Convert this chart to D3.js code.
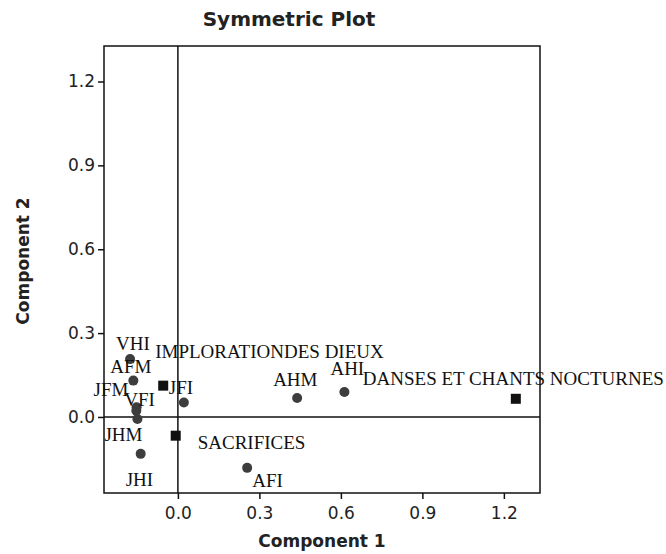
<!DOCTYPE html>
<html>
<head>
<meta charset="utf-8">
<script src="https://cdn.jsdelivr.net/npm/d3@7"></script>
<style>
  body { margin: 0; background: #fff; }
  .lbl { font-family: "Liberation Serif", "Times New Roman", serif; font-size: 19px; fill: #111; }
  .tick text { font-family: "DejaVu Sans", sans-serif; font-size: 17px; fill: #222; }
  .ttl { font-family: "DejaVu Sans", sans-serif; font-weight: bold; fill: #222; }
</style>
</head>
<body>
<div id="chart"></div>
<script>

// row points (circles)
var rowLabels = ["VHI", "AFM", "JFM", "VFI", "JHM", "JHI", "JFI", "AHM", "AHI", "AFI"];
var rowX = [-0.176, -0.164, -0.152, -0.153, -0.149, -0.137, 0.022, 0.439, 0.613, 0.255];
var rowY = [0.207, 0.130, 0.035, 0.022, -0.007, -0.132, 0.052, 0.068, 0.089, -0.182];

// column points (squares)
var colLabels = ["IMPLORATIONDES DIEUX", "SACRIFICES", "DANSES ET CHANTS NOCTURNES"];
var colX = [-0.054, -0.008, 1.244];
var colY = [0.112, -0.067, 0.065];

var xTicks = [0.0, 0.3, 0.6, 0.9, 1.2];
var yTicks = [0.0, 0.3, 0.6, 0.9, 1.2];

// label offsets in pixels from the marker (layout only)
var rowOffsets = [[-14, -9], [-23, -8], [-43, -11], [-12, -5], [-33, 22], [-15, 32], [-15, -8], [-24, -12], [-14, -17], [5, 19]];
var colOffsets = [[-8, -28], [22, 13], [-153, -14]];

var width = 666;
var height = 554;
var margin = {top: 46, right: 126, bottom: 61, left: 104};

var svg = d3.select("#chart")
  .append("svg")
  .attr("width", width)
  .attr("height", height);

var xScale = d3.scaleLinear()
  .domain([-0.272, 1.333])
  .range([margin.left, width - margin.right]);

var yScale = d3.scaleLinear()
  .domain([-0.272, 1.327])
  .range([height - margin.bottom, margin.top]);

// frame
svg.append("rect")
  .attr("x", margin.left)
  .attr("y", margin.top)
  .attr("width", width - margin.left - margin.right)
  .attr("height", height - margin.top - margin.bottom)
  .attr("fill", "none")
  .attr("stroke", "#111")
  .attr("stroke-width", 1.5);

// reference lines at zero
svg.append("line")
  .attr("x1", xScale(0)).attr("x2", xScale(0))
  .attr("y1", margin.top).attr("y2", height - margin.bottom)
  .attr("stroke", "#111").attr("stroke-width", 1.5);

svg.append("line")
  .attr("x1", margin.left).attr("x2", width - margin.right)
  .attr("y1", yScale(0)).attr("y2", yScale(0))
  .attr("stroke", "#111").attr("stroke-width", 1.5);

// axes
var gx = svg.append("g")
  .attr("transform", "translate(0," + (height - margin.bottom) + ")")
  .call(d3.axisBottom(xScale).tickValues(xTicks).tickSize(6).tickPadding(8).tickFormat(d3.format(".1f")));
gx.select(".domain").remove();
gx.selectAll(".tick line").attr("stroke", "#111").attr("stroke-width", 1.5);

var gy = svg.append("g")
  .attr("transform", "translate(" + margin.left + ",0)")
  .call(d3.axisLeft(yScale).tickValues(yTicks).tickSize(6).tickPadding(3).tickFormat(d3.format(".1f")));
gy.select(".domain").remove();
gy.selectAll(".tick line").attr("stroke", "#111").attr("stroke-width", 1.5);

// titles
svg.append("text")
  .attr("class", "ttl")
  .attr("x", 289)
  .attr("y", 26)
  .attr("text-anchor", "middle")
  .style("font-size", "20px")
  .text("Symmetric Plot");

svg.append("text")
  .attr("class", "ttl")
  .attr("x", (margin.left + width - margin.right) / 2)
  .attr("y", 547)
  .attr("text-anchor", "middle")
  .style("font-size", "17px")
  .text("Component 1");

svg.append("text")
  .attr("class", "ttl")
  .attr("transform", "translate(29,261) rotate(-90)")
  .attr("text-anchor", "middle")
  .style("font-size", "17px")
  .text("Component 2");

// markers
var rows = rowLabels.map(function(d, i) { return {label: d, x: rowX[i], y: rowY[i], off: rowOffsets[i]}; });
var cols = colLabels.map(function(d, i) { return {label: d, x: colX[i], y: colY[i], off: colOffsets[i]}; });

svg.selectAll(".row")
  .data(rows)
  .enter()
  .append("circle")
  .attr("class", "row")
  .attr("cx", function(d) { return xScale(d.x); })
  .attr("cy", function(d) { return yScale(d.y); })
  .attr("r", 5)
  .attr("fill", "#3d3d3d");

svg.selectAll(".col")
  .data(cols)
  .enter()
  .append("rect")
  .attr("class", "col")
  .attr("x", function(d) { return xScale(d.x) - 5; })
  .attr("y", function(d) { return yScale(d.y) - 5; })
  .attr("width", 10)
  .attr("height", 10)
  .attr("fill", "#111");

// labels
svg.selectAll(".lbl")
  .data(rows.concat(cols))
  .enter()
  .append("text")
  .attr("class", "lbl")
  .attr("x", function(d) { return xScale(d.x) + d.off[0]; })
  .attr("y", function(d) { return yScale(d.y) + d.off[1]; })
  .text(function(d) { return d.label; });

</script>
</body>
</html>
